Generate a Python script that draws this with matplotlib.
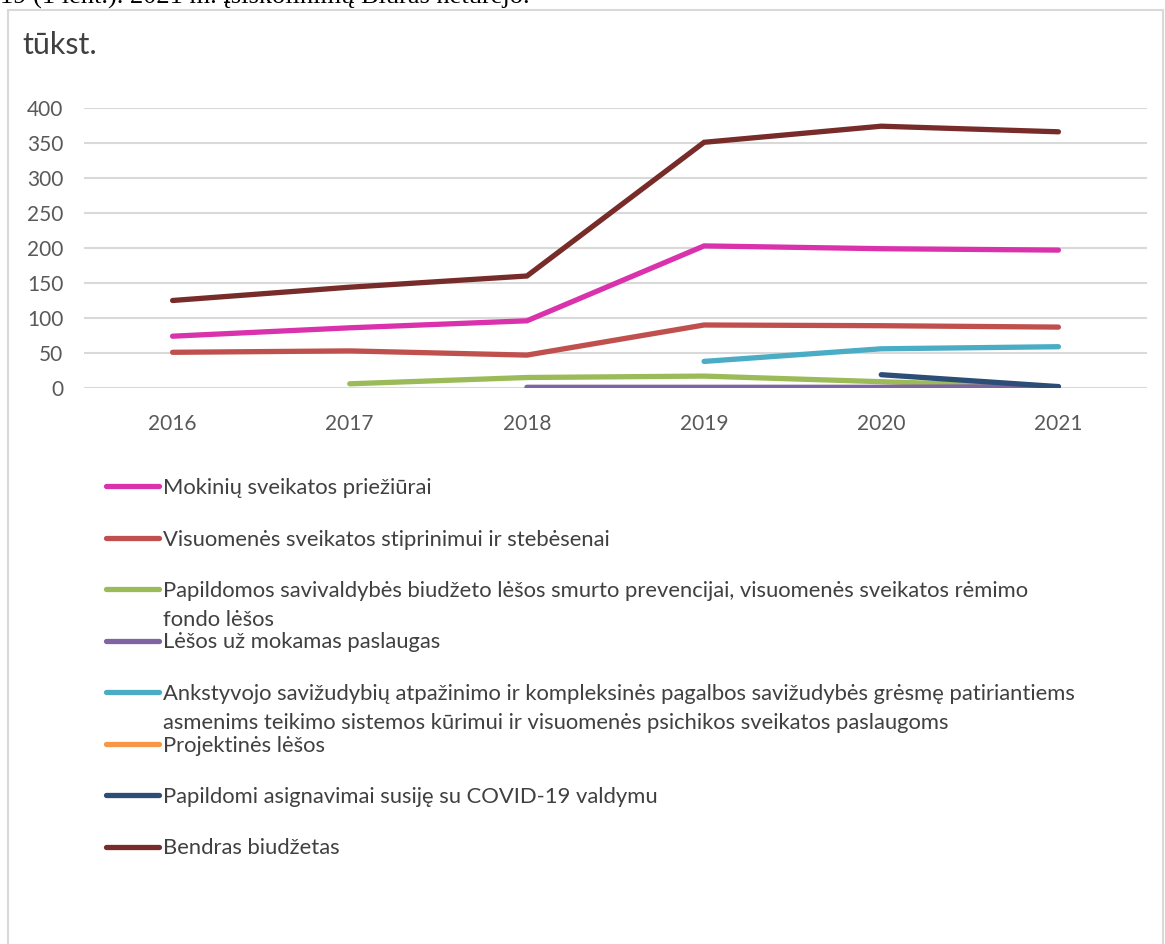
import numpy as np
import matplotlib
matplotlib.use('Agg')
import matplotlib.pyplot as plt
from matplotlib.lines import Line2D
from matplotlib.patches import Rectangle

years = ['2016', '2017', '2018', '2019', '2020', '2021']
nan = np.nan

mokiniu = [74, 86, 96, 203, 199, 197]
visuomenes = [51, 53, 47, 90, 89, 87]
papildomos = [nan, 6, 15, 17, 9, 1]
mokamos = [nan, nan, 1, 1, 1, 2]
ankstyvojo = [nan, nan, nan, 38, 56, 59]
projektines = [nan, nan, nan, nan, nan, nan]
covid = [nan, nan, nan, nan, 19, 2]
bendras = [125, 144, 160, 351, 374, 366]

labels = [
    'Mokinių sveikatos priežiūrai',
    'Visuomenės sveikatos stiprinimui ir stebėsenai',
    'Papildomos savivaldybės biudžeto lėšos smurto prevencijai, visuomenės sveikatos rėmimo\nfondo lėšos',
    'Lėšos už mokamas paslaugas',
    'Ankstyvojo savižudybių atpažinimo ir kompleksinės pagalbos savižudybės grėsmę patiriantiems\nasmenims teikimo sistemos kūrimui ir visuomenės psichikos sveikatos paslaugoms',
    'Projektinės lėšos',
    'Papildomi asignavimai susiję su COVID-19 valdymu',
    'Bendras biudžetas',
]
series = [mokiniu, visuomenes, papildomos, mokamos, ankstyvojo, projektines, covid, bendras]
colors = ['#D932AC', '#C0504D', '#9BBB59', '#8064A2', '#4BACC6', '#F79646', '#2C4D75', '#772C2A']

plt.rcParams['font.family'] = ['Lato', 'DejaVu Sans']

W, H = 1165, 944
fig = plt.figure(figsize=(W / 100, H / 100), dpi=100)

# chart frame
fig.patches.append(Rectangle((8 / W, -0.05), (1155 / W), 1 - 10 / H + 0.05,
                             transform=fig.transFigure, fill=False,
                             edgecolor='#D9D9D9', linewidth=1.5))

# cut off text line from the document above
fig.text(0, 1 - 4 / H, '19 (1 lent.). 2021 m. įsiskolinimų Biuras neturėjo.',
         family='Liberation Serif', fontsize=19, color='black', va='baseline')

fig.text(22 / W, 1 - 54 / H, 'tūkst.', fontsize=22, color='#404040', va='baseline')

ax = fig.add_axes([84 / W, 1 - 388 / H, (1147 - 84) / W, (388 - 108) / H])
x = np.arange(len(years))
for vals, c in zip(series, colors):
    ax.plot(x, vals, color=c, linewidth=3.8, solid_capstyle='round',
            solid_joinstyle='miter')

ax.set_xlim(-0.5, len(years) - 0.5)
ax.set_ylim(0, 400)
ax.set_yticks(range(0, 401, 50))
ax.set_xticks(x)
ax.set_xticklabels(years)
ax.grid(axis='y', color='#D9D9D9', linewidth=1.5)
ax.set_axisbelow(True)
for s in ax.spines.values():
    s.set_visible(False)
ax.tick_params(length=0, labelsize=15, labelcolor='#595959')
ax.tick_params(axis='y', pad=15)
ax.tick_params(axis='x', pad=19)

# legend, one row every ~51.5 px, wrapped lines overflow downwards
y0 = 486
for i, (lab, c) in enumerate(zip(labels, colors)):
    yl = y0 + i * 51.5
    fig.add_artist(Line2D([106 / W, 159 / W], [1 - yl / H] * 2, transform=fig.transFigure,
                          color=c, linewidth=3.8, solid_capstyle='round'))
    for k, part in enumerate(lab.split('\n')):
        fig.text(163 / W, 1 - (yl + 8 + k * 29) / H, part, fontsize=15.8,
                 color='#404040', va='baseline')

fig.savefig('out.png', dpi=100)
